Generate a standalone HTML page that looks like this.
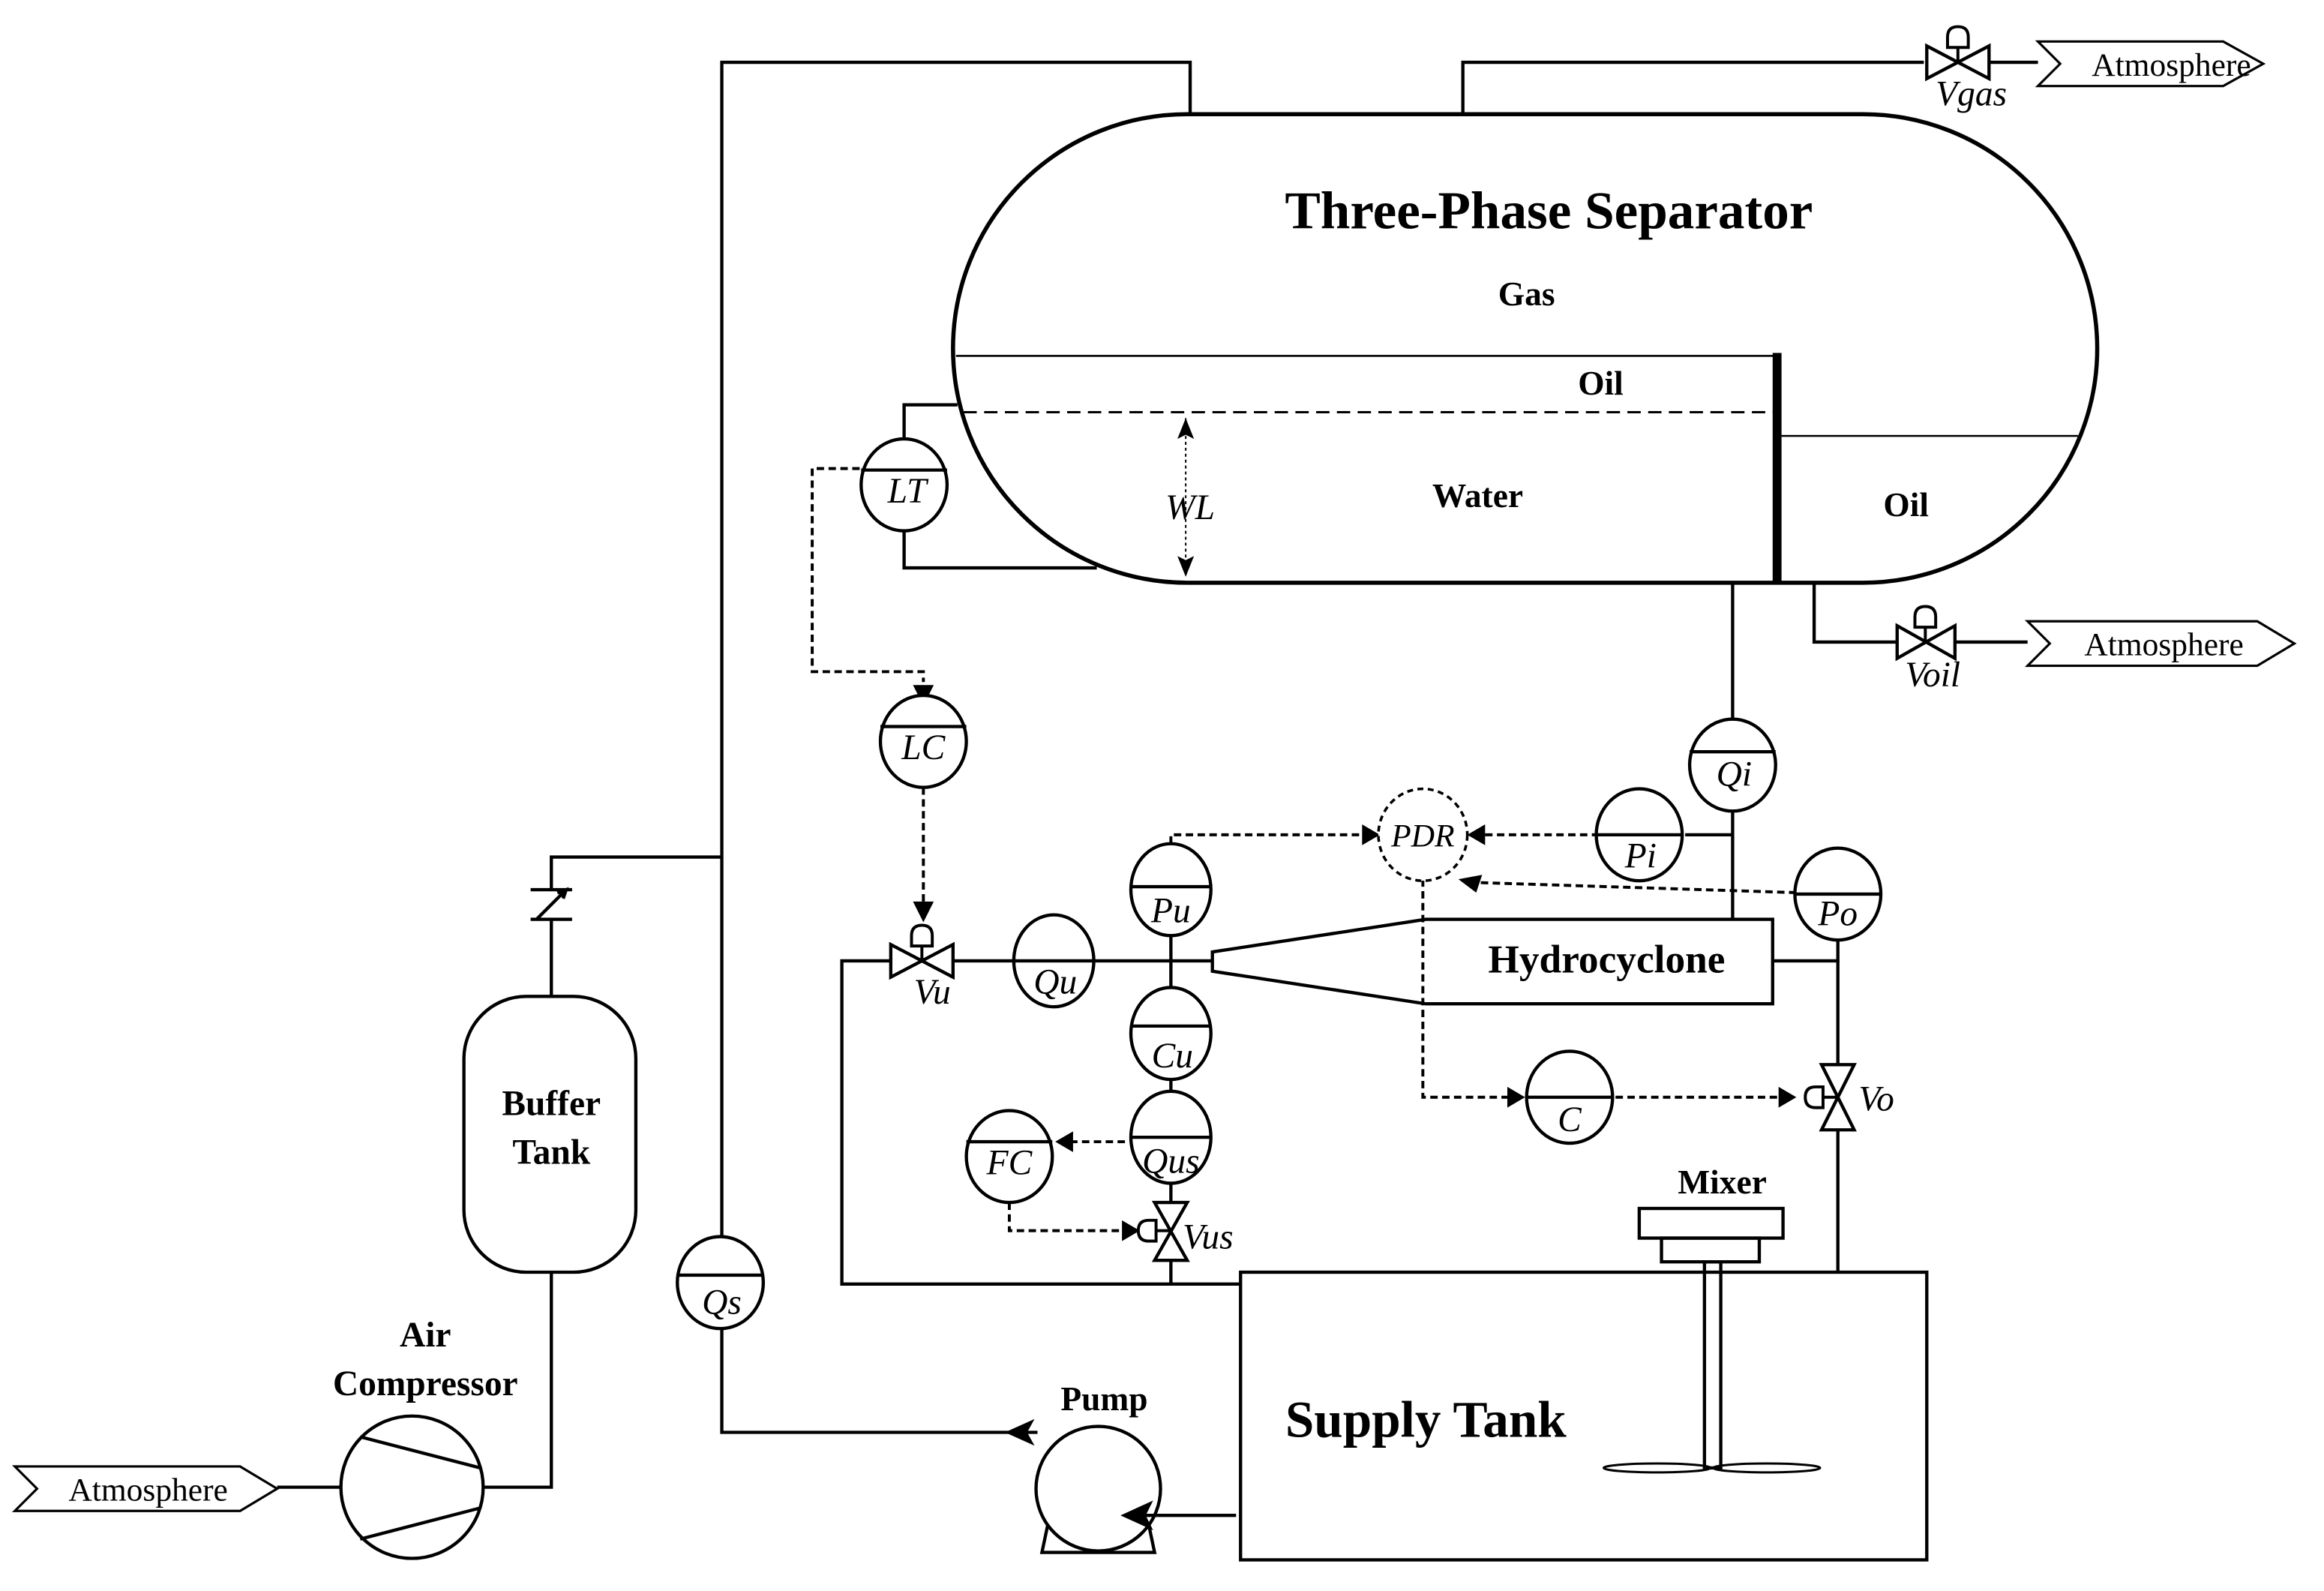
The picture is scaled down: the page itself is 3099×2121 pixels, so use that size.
<!DOCTYPE html>
<html><head><meta charset="utf-8"><style>
html,body{margin:0;padding:0;background:#fff;}
svg{display:block;}
text{font-family:"Liberation Serif",serif;fill:#000;}
.b{font-weight:bold;}
.i{font-style:italic;}
</style></head><body>
<svg width="3099" height="2121" viewBox="0 0 1568 1073" preserveAspectRatio="none" xmlns="http://www.w3.org/2000/svg">
<defs>
<marker id="as" viewBox="0 0 10 10" refX="10" refY="5" markerWidth="14" markerHeight="14" orient="auto-start-reverse" markerUnits="userSpaceOnUse"><path d="M0,1 L10,5 L0,9 L2,5 Z" fill="#000"/></marker>
</defs>
<g fill="none" stroke="#000" stroke-width="2.2">
<path d="M801,77 H1257 A158,158 0 0 1 1257,393 H801 A158,158 0 0 1 801,77 Z" stroke-width="2.8"/>
<line x1="645" y1="240" x2="1198" y2="240" stroke-width="1.3"/>
<line x1="650" y1="278" x2="1198" y2="278" stroke-width="1.5" stroke-dasharray="9,5"/>
<line x1="1199" y1="238" x2="1199" y2="393" stroke-width="6"/>
<line x1="1202" y1="294" x2="1402" y2="294" stroke-width="1.3"/>
<line x1="800" y1="282" x2="800" y2="389" stroke-width="1" stroke-dasharray="2,2" marker-start="url(#as)" marker-end="url(#as)"/>
<polyline points="803,77 803,42 487,42 487,834"/>
<polyline points="487,896 487,966 700,966"/>
<polyline points="487,578 372,578 372,600"/>
<line x1="372" y1="620" x2="372" y2="672"/>
<polyline points="987,77 987,42 1298,42"/>
<line x1="1342" y1="42" x2="1375" y2="42"/>
<polyline points="1224,393 1224,433 1279,433"/>
<line x1="1319" y1="433" x2="1368" y2="433"/>
<polyline points="646,273 610,273 610,296"/>
<polyline points="610,358 610,383 740,383"/>
<line x1="1169" y1="393" x2="1169" y2="485"/>
<line x1="1169" y1="547" x2="1169" y2="620"/>
<line x1="1137" y1="563" x2="1169" y2="563"/>
<path d="M818,642 L962,620 H1196 V677 H962 L818,655 Z"/>
<polyline points="1196,648 1240,648 1240,634"/>
<line x1="1240" y1="648" x2="1240" y2="718"/>
<line x1="1240" y1="762" x2="1240" y2="858"/>
<polyline points="818,648 568,648 568,866 837,866"/>
<line x1="790" y1="631" x2="790" y2="666"/>
<line x1="790" y1="728" x2="790" y2="736"/>
<line x1="790" y1="798" x2="790" y2="866"/>
<rect x="837" y="858" width="463" height="194"/>
<rect x="1106" y="815" width="97" height="20"/>
<rect x="1121" y="835" width="66" height="16"/>
<rect x="1150" y="851" width="11" height="139"/>
<ellipse cx="1118" cy="990" rx="36" ry="3" stroke-width="1.5"/>
<ellipse cx="1192" cy="990" rx="36" ry="3" stroke-width="1.5"/>
<circle cx="741" cy="1004" r="42" fill="#fff"/>
<polyline points="707,1028 703,1047 779,1047 775,1028"/>
<line x1="834" y1="1022" x2="770" y2="1022"/>
<rect x="313" y="672" width="116" height="186" rx="42"/>
<polyline points="372,858 372,1003 326,1003"/>
<circle cx="278" cy="1003" r="48"/>
<line x1="243" y1="969" x2="324" y2="990"/>
<line x1="243" y1="1038" x2="324" y2="1017"/>
<line x1="187" y1="1003" x2="230" y2="1003"/>
<path d="M358,600 H386 M358,620 H386 M362,620 L382,600"/>
<path d="M376,602 L382,600 L380,606" fill="#000"/>
<path d="M1375,28 H1500 L1527,43 L1500,58 H1375 L1390,43 Z" stroke-width="1.6"/>
<path d="M1368,419 H1523 L1548,434 L1523,449 H1368 L1383,434 Z" stroke-width="1.6"/>
<path d="M10,989 H162 L187,1004 L162,1019 H10 L25,1004 Z" stroke-width="1.6"/>
</g>
<g fill="none" stroke="#000" stroke-width="2" stroke-dasharray="5,3">
<polyline points="580,316 548,316 548,453 623,453 623,460"/>
<line x1="623" y1="531" x2="623" y2="610"/>
<polyline points="790,569 790,563 925,563"/>
<line x1="1079" y1="563" x2="996" y2="563"/>
<line x1="1212" y1="602" x2="990" y2="595" />
<polyline points="960,593 960,740 1023,740"/>
<line x1="1090" y1="740" x2="1207" y2="740"/>
<line x1="759" y1="770" x2="718" y2="770"/>
<polyline points="681,811 681,830 763,830"/>
</g>
<g fill="#000">
<path d="M616,462 L630,462 L623,476 Z"/>
<path d="M616,608 L630,608 L623,622 Z"/>
<path d="M919,556 L919,570 L931,563 Z"/>
<path d="M1002,556 L1002,570 L990,563 Z"/>
<path d="M1000,590 L996,602 L984,593 Z"/>
<path d="M1017,733 L1017,747 L1029,740 Z"/>
<path d="M1200,733 L1200,747 L1212,740 Z"/>
<path d="M724,763 L724,777 L712,770 Z"/>
<path d="M757,823 L757,837 L769,830 Z"/>
<path d="M698,957 L678,966 L698,975 L693,966 Z"/>
<path d="M778,1012 L756,1022 L778,1032 L773,1022 Z"/>
</g>
<g fill="#fff" stroke="#000" stroke-width="2.2">
<path d="M1300,31 L1300,53 L1342,31 L1342,53 Z"/>
<path d="M1280,422 L1280,444 L1319,422 L1319,444 Z"/>
<path d="M601,637 L601,659 L643,637 L643,659 Z"/>
<path d="M779,811 L801,811 L779,850 L801,850 Z"/>
<path d="M1229,718 L1251,718 L1229,762 L1251,762 Z"/>
</g>
<g fill="#fff" stroke="#000" stroke-width="2">
<line x1="1321" y1="42" x2="1321" y2="32"/><path d="M1314,32 V25 Q1314,18 1321,18 Q1328,18 1328,25 V32 Z"/>
<line x1="1299" y1="433" x2="1299" y2="423"/><path d="M1292,423 V416 Q1292,409 1299,409 Q1306,409 1306,416 V423 Z"/>
<line x1="622" y1="648" x2="622" y2="638"/><path d="M615,638 V631 Q615,624 622,624 Q629,624 629,631 V638 Z"/>
<line x1="790" y1="830" x2="780" y2="830"/><path d="M780,823 H775 Q768,823 768,830 Q768,837 775,837 H780 Z"/>
<line x1="1240" y1="740" x2="1230" y2="740"/><path d="M1230,733 H1225 Q1218,733 1218,740 Q1218,747 1225,747 H1230 Z"/>
</g>
<g fill="#fff" stroke="#000" stroke-width="2.2">
<ellipse cx="610" cy="327" rx="29" ry="31"/><line x1="581" y1="317" x2="639" y2="317"/>
<ellipse cx="623" cy="500" rx="29" ry="31"/><line x1="594" y1="490" x2="652" y2="490"/>
<ellipse cx="1169" cy="516" rx="29" ry="31"/><line x1="1140" y1="507" x2="1198" y2="507"/>
<ellipse cx="1106" cy="563" rx="29" ry="31"/><line x1="1077" y1="563" x2="1135" y2="563"/>
<ellipse cx="790" cy="600" rx="27" ry="31"/><line x1="763" y1="598" x2="817" y2="598"/>
<ellipse cx="1240" cy="603" rx="29" ry="31"/><line x1="1211" y1="603" x2="1269" y2="603"/>
<ellipse cx="711" cy="648" rx="27" ry="31"/><line x1="684" y1="648" x2="738" y2="648"/>
<ellipse cx="790" cy="697" rx="27" ry="31"/><line x1="763" y1="692" x2="817" y2="692"/>
<ellipse cx="790" cy="767" rx="27" ry="31"/><line x1="763" y1="767" x2="817" y2="767"/>
<ellipse cx="681" cy="780" rx="29" ry="31"/><line x1="652" y1="770" x2="710" y2="770"/>
<ellipse cx="1059" cy="740" rx="29" ry="31"/><line x1="1030" y1="740" x2="1088" y2="740"/>
<ellipse cx="486" cy="865" rx="29" ry="31"/><line x1="457" y1="860" x2="515" y2="860"/>
<ellipse cx="960" cy="563" rx="30" ry="31" stroke-dasharray="4,3" stroke-width="1.8"/>
</g>
<g class="i" font-size="24" text-anchor="middle">
<text x="612" y="339">LT</text>
<text x="623" y="512">LC</text>
<text x="1170" y="530">Qi</text>
<text x="1107" y="585">Pi</text>
<text x="790" y="622">Pu</text>
<text x="1240" y="624">Po</text>
<text x="712" y="670">Qu</text>
<text x="791" y="720">Cu</text>
<text x="790" y="791">Qus</text>
<text x="681" y="792">FC</text>
<text x="1059" y="763">C</text>
<text x="487" y="886">Qs</text>
<text x="960" y="571" font-size="22" fill="#555">PDR</text>
<text x="803" y="350">WL</text>
<text x="629" y="677">Vu</text>
<text x="815" y="842">Vus</text>
<text x="1266" y="749">Vo</text>
<text x="1330" y="71">Vgas</text>
<text x="1304" y="463">Voil</text>
</g>
<g font-size="22" text-anchor="middle">
<text x="1465" y="51">Atmosphere</text>
<text x="1460" y="442">Atmosphere</text>
<text x="100" y="1012">Atmosphere</text>
</g>
<g class="b" text-anchor="middle">
<text x="1045" y="154" font-size="36">Three-Phase Separator</text>
<text x="1030" y="206" font-size="23">Gas</text>
<text x="1080" y="266" font-size="23">Oil</text>
<text x="997" y="342" font-size="23">Water</text>
<text x="1286" y="348" font-size="23">Oil</text>
<text x="1084" y="656" font-size="27">Hydrocyclone</text>
<text x="1162" y="805" font-size="23">Mixer</text>
<text x="962" y="969" font-size="35">Supply Tank</text>
<text x="745" y="951" font-size="23">Pump</text>
<text x="372" y="752" font-size="24">Buffer</text>
<text x="372" y="785" font-size="24">Tank</text>
<text x="287" y="908" font-size="24">Air</text>
<text x="287" y="941" font-size="24">Compressor</text>
</g>
</svg>
</body></html>
